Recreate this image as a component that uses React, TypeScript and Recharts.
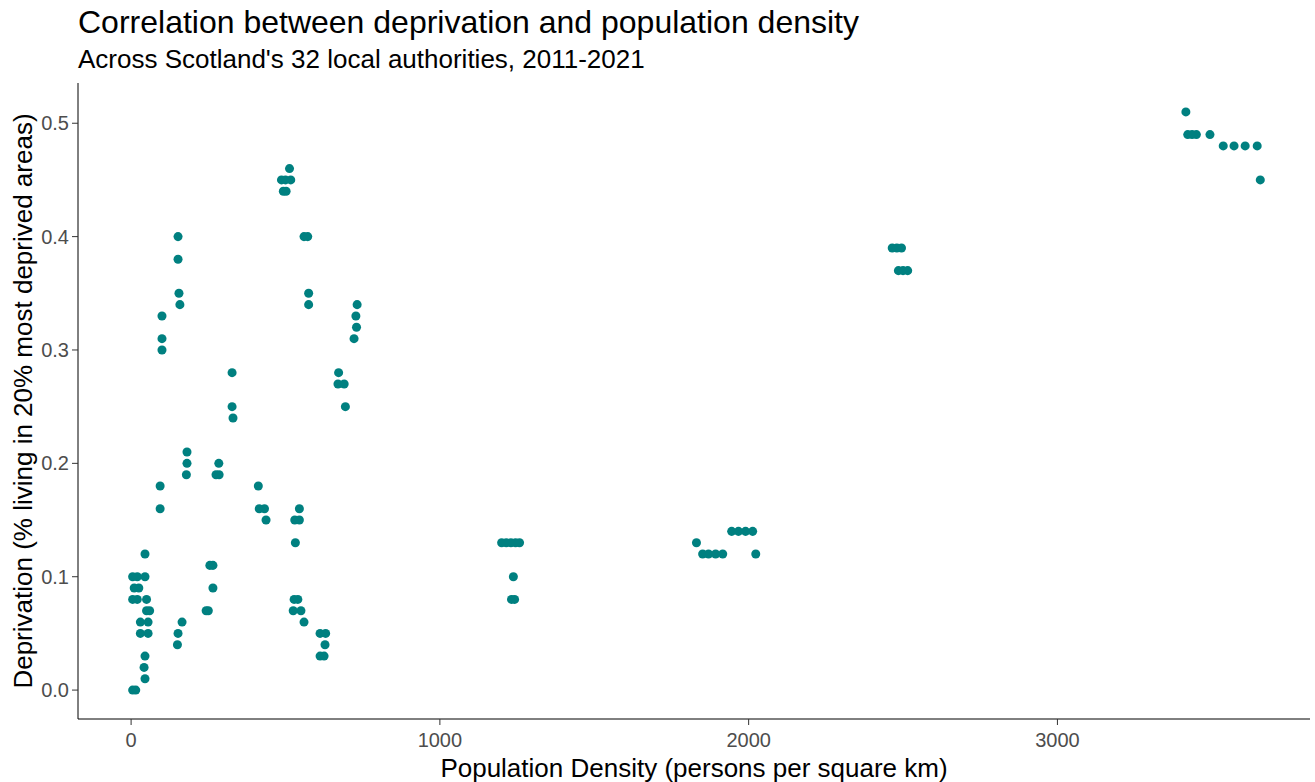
import React from "react";
import {
  ScatterChart,
  Scatter,
  XAxis,
  YAxis,
  ZAxis,
  Label,
} from "recharts";

// population density (persons per sq km), one entry per visible point
const density = [
  45, 5, 20, 45, 10, 25, 5, 20, 50, 50, 60, 30, 55, 30, 55, 45, 42, 45, 5, 15,
  165, 152, 150, 152, 152, 155, 158,
  100, 100, 100, 94, 94,
  181, 181, 179,
  284, 275, 285,
  255, 265, 265, 243, 250,
  327, 327, 330,
  412, 415, 432, 437,
  545, 530, 545, 532, 528, 540, 525, 550, 560,
  612, 630, 628, 612, 625,
  513, 487, 500, 517, 493, 502,
  560, 572, 575, 575,
  732, 728, 730, 722,
  672, 670, 690, 694,
  1200, 1215, 1230, 1245, 1258, 1238, 1232, 1242,
  1831, 1851, 1870, 1893, 1916, 1945, 1967, 1990, 2013, 2023,
  2465, 2480, 2495, 2485, 2500, 2515,
  3416, 3422, 3436, 3450, 3494, 3537, 3572, 3608, 3647, 3657,
];

// share of population living in the 20% most deprived areas
const deprivation = [
  0.12, 0.1, 0.1, 0.1, 0.09, 0.09, 0.08, 0.08, 0.08, 0.07, 0.07, 0.06, 0.06, 0.05, 0.05, 0.03, 0.02, 0.01, 0.0, 0.0,
  0.06, 0.05, 0.04, 0.4, 0.38, 0.35, 0.34,
  0.33, 0.31, 0.3, 0.18, 0.16,
  0.21, 0.2, 0.19,
  0.2, 0.19, 0.19,
  0.11, 0.11, 0.09, 0.07, 0.07,
  0.28, 0.25, 0.24,
  0.18, 0.16, 0.16, 0.15,
  0.16, 0.15, 0.15, 0.13, 0.08, 0.08, 0.07, 0.07, 0.06,
  0.05, 0.05, 0.04, 0.03, 0.03,
  0.46, 0.45, 0.45, 0.45, 0.44, 0.44,
  0.4, 0.4, 0.35, 0.34,
  0.34, 0.33, 0.32, 0.31,
  0.28, 0.27, 0.27, 0.25,
  0.13, 0.13, 0.13, 0.13, 0.13, 0.1, 0.08, 0.08,
  0.13, 0.12, 0.12, 0.12, 0.12, 0.14, 0.14, 0.14, 0.14, 0.12,
  0.39, 0.39, 0.39, 0.37, 0.37, 0.37,
  0.51, 0.49, 0.49, 0.49, 0.49, 0.48, 0.48, 0.48, 0.48, 0.45,
];

const xTicks = [0, 1000, 2000, 3000];
const yTicks = [0, 0.1, 0.2, 0.3, 0.4, 0.5];

const points = density.map((d, i) => ({ density: d, deprivation: deprivation[i] }));

const FONT = "'Liberation Sans', Arial, sans-serif";
const tickStyle = { fontSize: 20, fill: "#4d4d4d", fontFamily: FONT };

export default function App() {
  return (
    <div style={{ position: "absolute", left: 0, top: 0, width: 1315, height: 782, fontFamily: FONT }}>
      <div style={{ position: "absolute", left: 78, top: 6, fontSize: 32, lineHeight: "32px", color: "#000", whiteSpace: "nowrap" }}>
        Correlation between deprivation and population density
      </div>
      <div style={{ position: "absolute", left: 78, top: 46, fontSize: 26, lineHeight: "26px", color: "#000", whiteSpace: "nowrap" }}>
        Across Scotland's 32 local authorities, 2011-2021
      </div>
      <ScatterChart
        width={1315}
        height={782}
        margin={{ top: 83, right: 5, left: 0, bottom: 0 }}
      >
        <XAxis
          type="number"
          dataKey="density"
          domain={[-172, 3818]}
          allowDataOverflow
          ticks={xTicks}
          height={63}
          tick={tickStyle}
          tickLine={{ stroke: "#333" }}
          axisLine={{ stroke: "#000" }}
          tickSize={6}
          tickMargin={8}
        >
          <Label
            value="Population Density (persons per square km)"
            position="insideBottom"
            offset={5}
            style={{ fontSize: 26, fill: "#000", fontFamily: FONT }}
          />
        </XAxis>
        <YAxis
          type="number"
          dataKey="deprivation"
          domain={[-0.0255, 0.5355]}
          allowDataOverflow
          ticks={yTicks}
          width={78}
          tick={tickStyle}
          tickFormatter={(v: number) => v.toFixed(1)}
          tickLine={{ stroke: "#333" }}
          axisLine={{ stroke: "#000" }}
          tickSize={6}
          tickMargin={3}
        >
          <Label
            value="Deprivation (% living in 20% most deprived areas)"
            angle={-90}
            position="center"
            dx={-16}
            style={{ fontSize: 26, fill: "#000", fontFamily: FONT, textAnchor: "middle" }}
          />
        </YAxis>
        <ZAxis range={[70, 70]} />
        <Scatter data={points} fill="#008080" isAnimationActive={false} />
      </ScatterChart>
    </div>
  );
}
